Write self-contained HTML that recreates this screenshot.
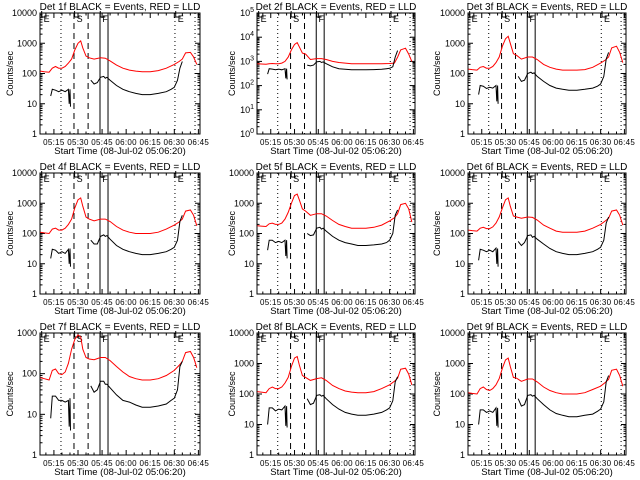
<!DOCTYPE html>
<html><head><meta charset="utf-8"><style>
body{margin:0;background:#fff;}
svg{display:block;font-family:"Liberation Sans",sans-serif;}
</style></head><body>
<svg id="c" width="640" height="480" viewBox="0 0 640 480" xmlns="http://www.w3.org/2000/svg"></svg>
<script>
// time axis: minutes after 05:00
const xTickLabels = ["05:15","05:30","05:45","06:00","06:15","06:30","06:45"];
const xTickTimes = [15,30,45,60,75,90,105];
const markerTimes = [19.4,27.5,36.3,43.7,48.7,90.4,102.9];
const markerStyles = ["dot","dash","dash","solid","solid","dot","dot"];
const redTimes = [6.5,9,12,14,16,18,20,22,24,26,28,30,31.7,33,35,37,40,44,47,50,54,58,62,66,70,75,80,85,90,93,95,97,100,102,104];
const blackTimes = [13,14,16,18,20,22,24,24.5,25,25.3,null,38,40,42,44,46,47,48,50,54,58,62,66,70,75,80,85,88,90,92,93.5,95];
const detNames = ["1f","2f","3f","4f","5f","6f","7f","8f","9f"];
const yMaxDecades = [4,5,4,4,4,4,3,4,4];
const red1=[120,115,110,150,170,150,150,170,220,300,600,1000,1200,700,380,330,300,330,320,260,190,150,130,120,115,115,125,150,200,250,300,480,500,350,200];
const red2=[800,780,760,800,820,800,800,850,1000,1500,3000,5000,6000,4000,2200,2000,1200,1300,1300,1200,1000,900,850,800,800,800,800,800,820,850,1500,3000,3500,2000,1000];
const red3=[140,135,130,160,170,150,150,170,230,350,800,1400,1700,1000,450,400,300,350,350,290,200,160,140,130,130,130,135,160,220,280,350,700,800,500,230];
const red4=[110,105,100,140,150,130,130,150,200,300,700,1300,1500,800,350,300,260,300,300,250,170,130,110,100,100,100,110,140,190,240,300,550,600,400,180];
const red5=[180,175,170,210,220,200,200,220,300,500,1000,1800,2000,1300,650,550,400,450,450,380,270,200,170,150,150,150,160,190,260,330,450,900,1000,650,240];
const red6=[130,125,120,150,160,145,145,165,220,350,700,1300,1500,800,380,350,320,350,340,280,190,150,120,110,110,110,120,150,200,260,320,550,600,400,190];
const red7=[80,75,70,120,130,100,95,110,180,400,700,900,800,400,250,230,220,250,250,210,150,110,85,75,70,70,75,90,120,160,200,330,350,250,140];
const red8=[120,115,110,150,170,150,150,170,230,350,800,1500,1700,900,400,350,280,320,340,280,190,150,125,115,110,110,120,150,200,260,330,650,700,450,200];
const red9=[110,105,100,150,170,140,130,150,200,320,700,1300,1500,800,350,330,260,310,310,250,170,130,110,100,100,100,110,140,180,240,300,600,650,400,180];
const black1=[18,30,28,25,28,25,30,10,30,8,null,60,45,50,75,80,70,75,60,40,30,25,22,20,20,22,25,30,35,60,150,250];
const black2=[300,500,480,450,480,450,500,200,500,180,null,700,650,700,950,1000,900,950,800,600,500,470,450,450,450,460,470,500,520,600,1500,2800];
const black3=[20,40,38,32,35,33,40,12,40,10,null,80,55,60,100,110,100,105,80,55,40,33,30,28,28,30,33,38,45,80,300,500];
const black4=[15,30,28,22,25,22,30,10,32,8,null,60,45,45,80,90,80,85,65,40,30,25,22,20,20,22,25,30,35,60,250,400];
const black5=[28,60,60,50,55,50,60,18,60,15,null,100,85,90,150,160,140,150,120,80,60,50,45,40,40,42,45,50,60,100,400,600];
const black6=[13,30,28,25,28,25,33,10,32,8,null,55,40,50,85,90,75,80,65,45,32,25,22,20,20,22,25,30,35,60,220,350];
const black7=[8,28,28,22,22,20,22,5,25,4,null,50,35,40,65,65,55,55,45,30,22,20,17,15,15,16,18,22,25,40,150,200];
const black8=[10,35,35,28,32,30,40,9,40,8,null,70,45,50,90,95,85,90,70,45,32,25,22,20,20,22,25,30,35,60,250,370];
const black9=[10,30,30,25,28,25,35,9,35,8,null,70,40,45,90,95,85,90,70,45,30,23,20,18,18,20,22,27,32,55,250,400];
const reds=[red1,red2,red3,red4,red5,red6,red7,red8,red9];
const blacks=[black1,black2,black3,black4,black5,black6,black7,black8,black9];

const NS="http://www.w3.org/2000/svg";
const svg=document.getElementById("c");
const colL=[40,257,468], colR=[200,415,626];
const rowT=[13,173,333], rowB=[134,294,455];
const labX=[10,232,437];
const T0=6.33, T1=106;
function mk(tag,attrs,parent){const e=document.createElementNS(NS,tag);for(const k in attrs)e.setAttribute(k,attrs[k]);(parent||svg).appendChild(e);return e;}

for(let p=0;p<9;p++){
  const c=p%3,r=Math.floor(p/3);
  const L=colL[c],R=colR[c],T=rowT[r],B=rowB[r],D=yMaxDecades[p];
  const xs=t=>L+(t-T0)/(T1-T0)*(R-L);
  const ys=v=>B-Math.log10(Math.max(v,1))/D*(B-T);
  const g=mk("g",{});
  
  
  const box=mk("rect",{x:L,y:T,width:R-L,height:B-T,fill:"none",stroke:"#000","stroke-width":1},g);
  
  
  for(let d=0;d<=D;d++){
    const y=ys(Math.pow(10,d));
    mk("line",{x1:L,x2:L+5,y1:y,y2:y,stroke:"#000"},g);
    mk("line",{x1:R,x2:R-5,y1:y,y2:y,stroke:"#000"},g);
    const t=mk("text",{x:L-3,y:y+3,"font-size":9,"text-anchor":"end"},g);
    
    
    if(D===5){t.textContent="10";const s=mk("tspan",{dy:-4,"font-size":7},t);s.textContent=String(d);}
    else t.textContent=String(Math.pow(10,d));
    if(d<D)for(let m=2;m<10;m++){const ym=ys(m*Math.pow(10,d));
      mk("line",{x1:L,x2:L+2.5,y1:ym,y2:ym,stroke:"#000"},g);
      mk("line",{x1:R,x2:R-2.5,y1:ym,y2:ym,stroke:"#000"},g);}
  }
  for(let t=10;t<T1;t+=5){const x=xs(t);const len=(t%15===0)?5:2.5;
    mk("line",{x1:x,x2:x,y1:B,y2:B-len,stroke:"#000"},g);
    mk("line",{x1:x,x2:x,y1:T,y2:T+len,stroke:"#000"},g);}
  xTickTimes.forEach((t,i)=>{const tx=mk("text",{x:xs(t),y:B+11,"font-size":8,"text-anchor":"middle","letter-spacing":"0.3"},g);
    
    
    tx.textContent=xTickLabels[i];});
  const xt=mk("text",{x:(L+R)/2,y:B+20,"font-size":9.5,"text-anchor":"middle"},g);
  
  
  xt.textContent="Start Time (08-Jul-02 05:06:20)";
  const yt=mk("text",{x:0,y:0,"font-size":9,"text-anchor":"middle",transform:`translate(${labX[c]+3},${(T+B)/2}) rotate(-90)`},g);
  
  
  yt.textContent="Counts/sec";
  const ti=mk("text",{x:(L+R)/2,y:T-3,"font-size":10,"text-anchor":"middle"},g);
  
  
  ti.textContent="Det "+detNames[p]+" BLACK = Events, RED = LLD";
  markerTimes.forEach((t,i)=>{const x=xs(t);const st=markerStyles[i];
    const ln=mk("line",{x1:x,x2:x,y1:T,y2:B,stroke:"#000","stroke-width":1,"stroke-dasharray":st==="dot"?"1,3":st==="dash"?"6,4":"none"},g);
    
    });
  [["E",8],["S",28.5],["F",44.5],["E",91.5]].forEach(([s,t])=>{const x=xs(t);
    mk("path",{d:`M${x-1},${T+4} L${x-1},${T-2} M${x-1},${T+4} L${x+4},${T+4}`,stroke:"#000",fill:"none"},g);
    const lt=mk("text",{x:x+1,y:T+9,"font-size":9},g);
    
    
    lt.textContent=s;});
  function path(times,vals){let d="",pen=false;
    for(let i=0;i<times.length;i++){if(times[i]===null||vals[i]===null){pen=false;continue;}
      d+=(pen?"L":"M")+xs(times[i]).toFixed(1)+","+ys(vals[i]).toFixed(1);pen=true;}return d;}
  const rp=mk("path",{d:path(redTimes,reds[p]),stroke:"#ff0000",fill:"none","stroke-width":1},g);
  
  
  const bp=mk("path",{d:path(blackTimes,blacks[p]),stroke:"#000",fill:"none","stroke-width":1},g);
  
  
}
</script>
</body></html>
